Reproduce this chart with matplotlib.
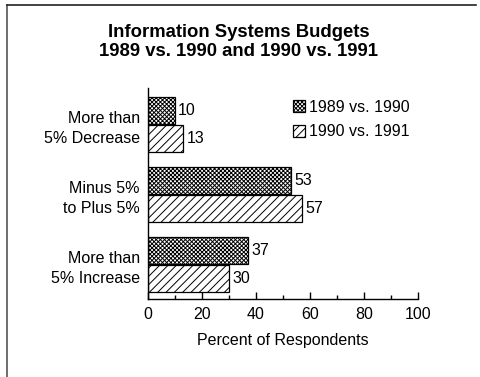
import matplotlib.pyplot as plt
import numpy as np
from matplotlib.patches import Patch
from matplotlib.lines import Line2D

plt.rcParams['font.family'] = ['Liberation Sans', 'DejaVu Sans']
plt.rcParams['hatch.linewidth'] = 0.7

categories = ['More than\n5% Decrease', 'Minus 5%\nto Plus 5%', 'More than\n5% Increase']
series_names = ['1989 vs. 1990', '1990 vs. 1991']
vals_89_90 = [10, 53, 37]
vals_90_91 = [13, 57, 30]
xticks = [0, 20, 40, 60, 80, 100]

fig = plt.figure(figsize=(4.8, 3.77), dpi=100)
ax = fig.add_axes([148/480, 1 - 299/377, 270/480, (299 - 88)/377])

y = np.arange(len(categories))
h = 0.38
b1 = ax.barh(y - h/2 - 0.01, vals_89_90, height=h, color='white', edgecolor='black',
             hatch='xxxxxxxx', linewidth=0.9)
b2 = ax.barh(y + h/2 + 0.01, vals_90_91, height=h, color='white', edgecolor='black',
             hatch='////', linewidth=0.9)

for bars, vals in ((b1, vals_89_90), (b2, vals_90_91)):
    for r, v in zip(bars, vals):
        ax.text(v + 1.2, r.get_y() + r.get_height()/2, str(v), va='center', ha='left',
                fontsize=11.5)

ax.set_xlim(0, 100)
ax.set_ylim(2.49, -0.52)
ax.set_yticks(y)
ax.set_yticklabels(categories, fontsize=11.5, linespacing=1.4)
ax.tick_params(axis='y', length=0, pad=6)
ax.set_xticks(xticks)
ax.set_xticks(np.arange(10, 100, 20), minor=True)
ax.tick_params(axis='x', which='major', direction='in', length=5, width=1, labelsize=11.5, pad=6)
ax.tick_params(axis='x', which='minor', direction='in', length=3, width=1)
ax.set_xlabel('Percent of Respondents', fontsize=11.5, labelpad=8)
for s in ('top', 'right'):
    ax.spines[s].set_visible(False)
ax.spines['left'].set_linewidth(1)
ax.spines['bottom'].set_linewidth(1)

handles = [Patch(facecolor='white', edgecolor='black', hatch='xxxxxxxx', lw=0.9),
           Patch(facecolor='white', edgecolor='black', hatch='////', lw=0.9)]
ax.legend(handles, series_names, loc='upper left', bbox_to_anchor=(0.50, 0.99),
          frameon=False, fontsize=11.5, handlelength=0.75, handleheight=0.75,
          handletextpad=0.3, labelspacing=0.6, borderaxespad=0.2)

fig.text(0.497, 1 - 42/377, 'Information Systems Budgets\n1989 vs. 1990 and 1990 vs. 1991',
         ha='center', va='center', fontsize=13.3, fontweight='bold', linespacing=1.2)

# outer frame (left and top edges)
fig.add_artist(Line2D([7/480, 7/480], [0, 1 - 5/377], color='#555555', lw=1.2))
fig.add_artist(Line2D([7/480, 476/480], [1 - 5/377, 1 - 5/377], color='#222222', lw=1.2))

fig.savefig('out.png', dpi=100)
